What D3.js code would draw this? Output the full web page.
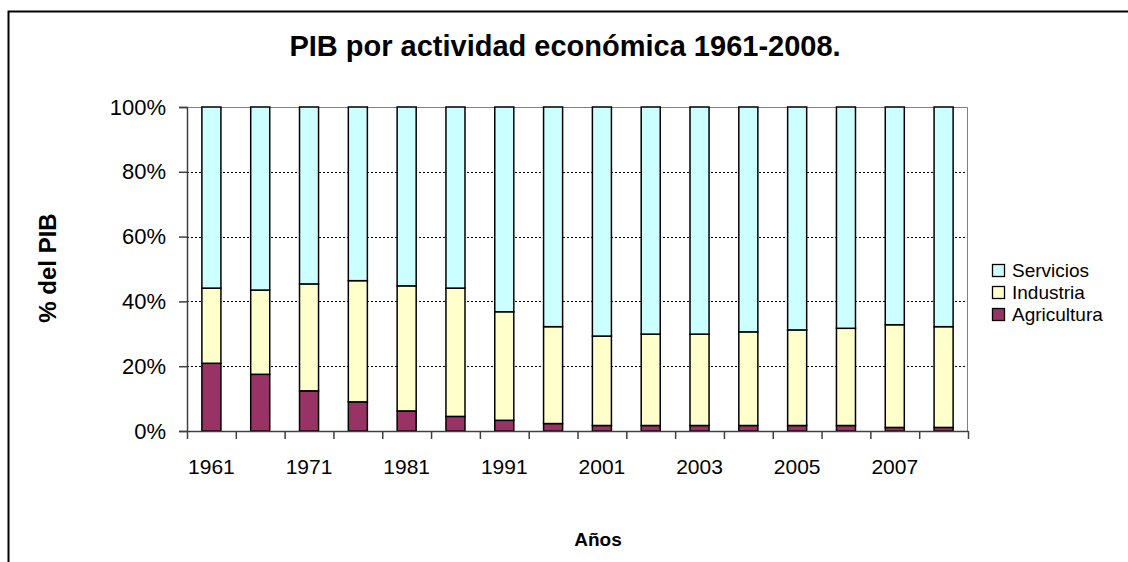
<!DOCTYPE html>
<html>
<head>
<meta charset="utf-8">
<script src="https://cdn.jsdelivr.net/npm/d3@7"></script>
<style>
  body { margin: 0; background: #fff; }
  svg { font-family: "Liberation Sans", Arial, sans-serif; }
</style>
</head>
<body>
<div id="chart"></div>
<script>
// years (only every other one gets a label, like the original)
const years = ["1961", "1966", "1971", "1976", "1981", "1986", "1991", "1996",
               "2001", "2002", "2003", "2004", "2005", "2006", "2007", "2008"];
const shownLabels = ["1961", "1971", "1981", "1991", "2001", "2003", "2005", "2007"];

// shares in %
const agricultura = [20.9, 17.5, 12.4, 9.0, 6.2, 4.5, 3.3, 2.3, 1.7, 1.7, 1.7, 1.7, 1.7, 1.7, 1.1, 1.1];
const industria   = [23.2, 26.0, 33.0, 37.4, 38.6, 39.6, 33.5, 29.9, 27.6, 28.2, 28.2, 28.9, 29.5, 30.0, 31.7, 31.1];
const servicios   = [55.9, 56.5, 54.6, 53.6, 55.2, 55.9, 63.2, 67.8, 70.7, 70.1, 70.1, 69.4, 68.8, 68.3, 67.2, 67.8];

const seriesNames = ["Agricultura", "Industria", "Servicios"];
const colors = { Agricultura: "#993366", Industria: "#FFFFCC", Servicios: "#CCFFFF" };

const width = 1128, height = 562;
const margin = { left: 187, right: 160, top: 107, bottom: 131 };
const plotW = width - margin.left - margin.right;
const plotH = height - margin.top - margin.bottom;

const svg = d3.select("#chart").append("svg")
    .attr("width", width)
    .attr("height", height);

// outer frame (cut off at right and bottom like the screenshot)
svg.append("rect")
    .attr("x", 8.5).attr("y", 11.5)
    .attr("width", 1200).attr("height", 700)
    .attr("fill", "none")
    .attr("stroke", "#000")
    .attr("stroke-width", 2);

// build table for the stack
const table = years.map((y, i) => ({
    year: y,
    Agricultura: agricultura[i] / 100,
    Industria: industria[i] / 100,
    Servicios: servicios[i] / 100
}));
const stacked = d3.stack().keys(seriesNames)(table);

const x = d3.scaleBand()
    .domain(years)
    .range([0, plotW])
    .paddingInner(0.61)
    .paddingOuter(0.305);

const y = d3.scaleLinear().domain([0, 1]).range([plotH, 0]);

const g = svg.append("g").attr("transform", `translate(${margin.left},${margin.top})`);

// dotted grid
g.selectAll(".grid")
    .data([0.2, 0.4, 0.6, 0.8])
    .enter().append("line")
    .attr("x1", 0).attr("x2", plotW)
    .attr("y1", d => Math.round(y(d)) + 0.5)
    .attr("y2", d => Math.round(y(d)) + 0.5)
    .attr("stroke", "#000")
    .attr("stroke-dasharray", "2,2")
    .attr("stroke-width", 1);

// plot area border top/right (gray)
g.append("path")
    .attr("d", `M0,0.5H${plotW - 0.5}V${plotH}`)
    .attr("fill", "none")
    .attr("stroke", "#808080")
    .attr("stroke-width", 1);

// bars
g.selectAll(".layer")
    .data(stacked)
    .enter().append("g")
    .attr("fill", d => colors[d.key])
    .selectAll("rect")
    .data(d => d)
    .enter().append("rect")
    .attr("x", d => x(d.data.year))
    .attr("y", d => y(d[1]))
    .attr("width", x.bandwidth())
    .attr("height", d => y(d[0]) - y(d[1]))
    .attr("stroke", "#000")
    .attr("stroke-width", 1.5);

// y axis
const yAxis = g.append("g")
    .call(d3.axisLeft(y)
        .tickValues([0, 0.2, 0.4, 0.6, 0.8, 1])
        .tickFormat(d3.format(".0%"))
        .tickSize(8)
        .tickPadding(13));
yAxis.select(".domain").attr("stroke", "#404040").attr("stroke-width", 1.5);
yAxis.selectAll(".tick line").attr("stroke", "#404040").attr("stroke-width", 1.5);
yAxis.selectAll("text")
    .attr("font-size", 22)
    .attr("fill", "#000")
    .attr("font-family", "Liberation Sans, Arial, sans-serif");

// x axis: tick marks at category boundaries
const xBound = d3.scaleLinear().domain([0, years.length]).range([0, plotW]);
const xAxis = g.append("g")
    .attr("transform", `translate(0,${plotH})`)
    .call(d3.axisBottom(xBound)
        .tickValues(d3.range(0, years.length + 1))
        .tickFormat("")
        .tickSize(8)
        .tickSizeOuter(0));
xAxis.select(".domain").attr("stroke", "#404040").attr("stroke-width", 1.5);
xAxis.selectAll(".tick line").attr("stroke", "#404040").attr("stroke-width", 1.5);

// x labels, every other year
const xLabels = g.append("g")
    .attr("transform", `translate(0,${plotH})`)
    .call(d3.axisBottom(x)
        .tickValues(shownLabels)
        .tickSize(0)
        .tickPadding(28));
xLabels.select(".domain").remove();
xLabels.selectAll("text")
    .attr("font-size", 21)
    .attr("fill", "#000")
    .attr("font-family", "Liberation Sans, Arial, sans-serif");

// title
svg.append("text")
    .attr("x", 565).attr("y", 56)
    .attr("text-anchor", "middle")
    .attr("font-size", 29)
    .attr("font-weight", "bold")
    .text("PIB por actividad económica 1961-2008.");

// axis titles
svg.append("text")
    .attr("x", 598).attr("y", 546)
    .attr("text-anchor", "middle")
    .attr("font-size", 19)
    .attr("font-weight", "bold")
    .text("Años");

svg.append("text")
    .attr("transform", "translate(56,268) rotate(-90)")
    .attr("text-anchor", "middle")
    .attr("font-size", 24)
    .attr("font-weight", "bold")
    .text("% del PIB");

// legend (top to bottom: Servicios, Industria, Agricultura)
const legend = svg.append("g").attr("transform", "translate(992,0)");
const legendItems = seriesNames.slice().reverse();
legendItems.forEach((name, i) => {
    const yy = 270 + i * 22;
    legend.append("rect")
        .attr("x", 0.5).attr("y", yy - 5.5)
        .attr("width", 12).attr("height", 12)
        .attr("fill", colors[name])
        .attr("stroke", "#000")
        .attr("stroke-width", 1.3);
    legend.append("text")
        .attr("x", 20).attr("y", yy + 7)
        .attr("font-size", 19)
        .text(name);
});
</script>
</body>
</html>
